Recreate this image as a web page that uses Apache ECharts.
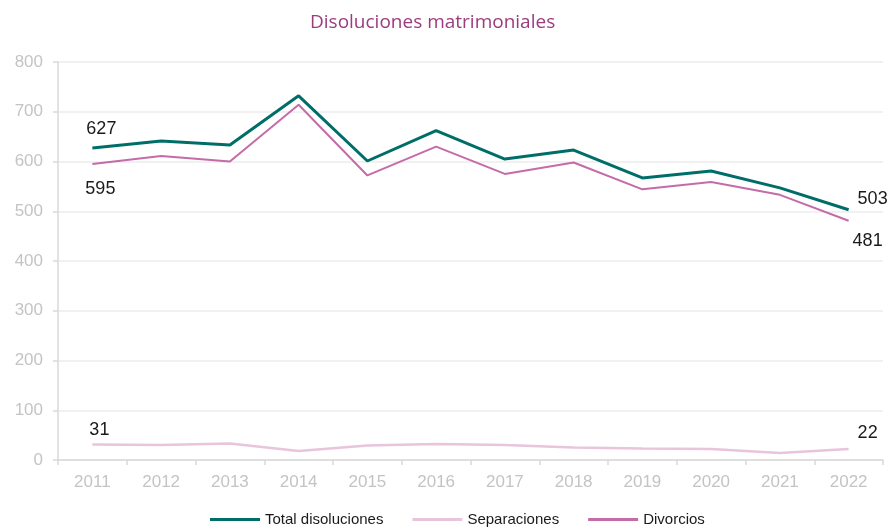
<!DOCTYPE html>
<html>
<head>
<meta charset="utf-8">
<script src="https://cdn.jsdelivr.net/npm/echarts@6/dist/echarts.min.js"></script>
<style>
  html, body { margin: 0; padding: 0; background: #fff; }
  #chart { width: 888px; height: 529px; }
</style>
</head>
<body>
<div id="chart"></div>
<script>
// datos
var years = ['2011', '2012', '2013', '2014', '2015', '2016', '2017', '2018', '2019', '2020', '2021', '2022'];
var total = [627, 641, 633, 732, 601, 662, 605, 623, 567, 581, 547, 503];
var separaciones = [31, 30, 33, 18, 29, 32, 30, 25, 23, 22, 14, 22];
var divorcios = [595, 611, 600, 714, 572, 630, 575, 598, 544, 559, 533, 481];

var chart = echarts.init(document.getElementById('chart'), null, { renderer: 'canvas' });

// etiquetas solo en el primer y último punto, con su desplazamiento
function withLabels(values, position, firstOffset, lastOffset) {
    var last = values.length - 1;
    return values.map(function (v, i) {
        if (i !== 0 && i !== last) return v;
        return {
            value: v,
            label: {
                show: true,
                position: position,
                offset: i === 0 ? firstOffset : lastOffset
            }
        };
    });
}

var labelStyle = {
    show: false,
    distance: 10,
    color: '#1a1a1a',
    fontFamily: 'Liberation Sans, Arial, sans-serif',
    fontSize: 18
};

var option = {
    animation: false,
    backgroundColor: '#fff',
    title: {
        text: 'Disoluciones matrimoniales',
        left: 305,
        top: 8,
        textStyle: {
            color: '#9c3b7e',
            fontFamily: 'Open Sans, Lato, sans-serif',
            fontWeight: 'normal',
            fontSize: 19
        }
    },
    grid: { left: 58, right: 5, top: 62, bottom: 69, containLabel: false },
    legend: {
        bottom: -3,
        left: 205,
        itemWidth: 50,
        itemHeight: 3,
        itemGap: 29,
        icon: 'rect',
        textStyle: {
            color: '#1a1a1a',
            fontFamily: 'Liberation Sans, Arial, sans-serif',
            fontSize: 15
        },
        data: ['Total disoluciones', 'Separaciones', 'Divorcios']
    },
    xAxis: {
        type: 'category',
        data: years,
        boundaryGap: true,
        axisLine: { lineStyle: { color: '#d9d9d9', width: 1.5 } },
        axisTick: { show: true, length: 5, lineStyle: { color: '#d9d9d9', width: 1.5 } },
        axisLabel: {
            color: '#c4c4c4',
            fontFamily: 'Liberation Sans, Arial, sans-serif',
            fontSize: 17,
            margin: 14
        }
    },
    yAxis: {
        type: 'value',
        min: 0,
        max: 800,
        interval: 100,
        axisLine: { show: true, lineStyle: { color: '#d9d9d9', width: 1.5 } },
        axisTick: { show: true, length: 5, lineStyle: { color: '#d9d9d9', width: 1.5 } },
        splitLine: { lineStyle: { color: '#ececec', width: 1.5 } },
        axisLabel: {
            color: '#c4c4c4',
            fontFamily: 'Liberation Sans, Arial, sans-serif',
            fontSize: 17,
            margin: 15
        }
    },
    series: [
        {
            name: 'Total disoluciones',
            type: 'line',
            data: withLabels(total, 'top', [9, 0], [24, 8]),
            symbol: 'circle',
            symbolSize: 0,
            color: '#006e68',
            lineStyle: { width: 3, color: '#006e68' },
            label: labelStyle,
            z: 3
        },
        {
            name: 'Separaciones',
            type: 'line',
            data: withLabels(separaciones, 'top', [7, 4], [19, 3]),
            symbol: 'circle',
            symbolSize: 0,
            color: '#e8c4dd',
            lineStyle: { width: 2.5, color: '#e8c4dd' },
            label: labelStyle,
            z: 2
        },
        {
            name: 'Divorcios',
            type: 'line',
            data: withLabels(divorcios, 'bottom', [8, 6], [19, 1]),
            symbol: 'circle',
            symbolSize: 0,
            color: '#c46ca8',
            lineStyle: { width: 2, color: '#c46ca8' },
            label: labelStyle,
            z: 2
        }
    ]
};

chart.setOption(option);
</script>
</body>
</html>
